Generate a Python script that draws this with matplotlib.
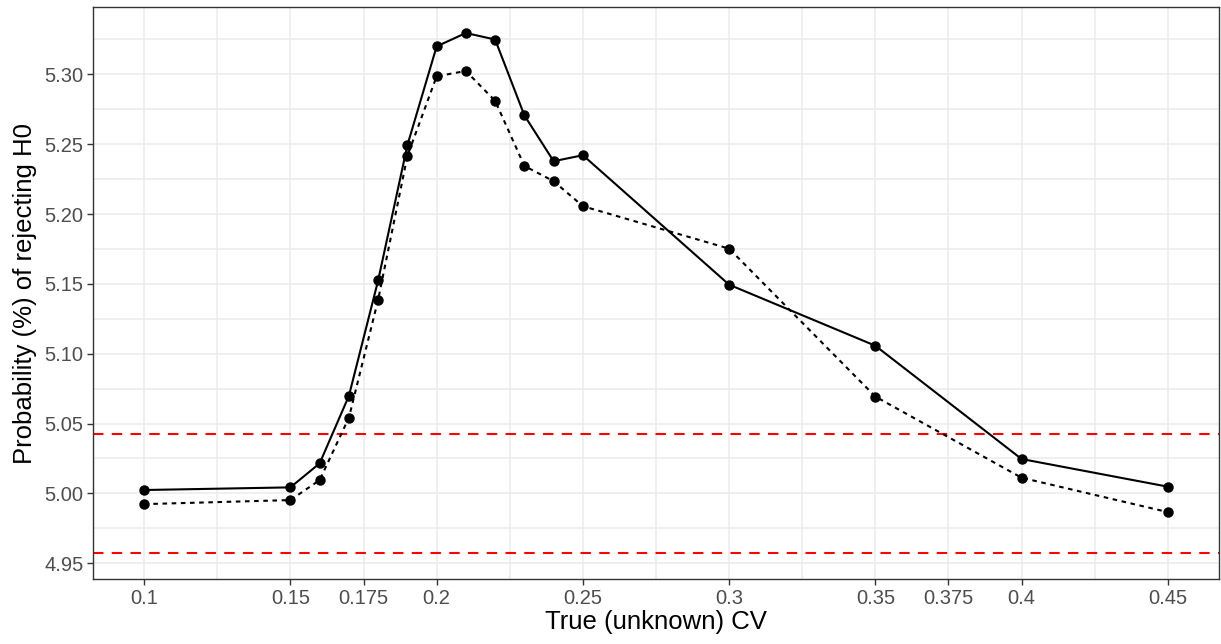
import numpy as np
import matplotlib
matplotlib.use("Agg")
import matplotlib.pyplot as plt
from matplotlib.ticker import FixedLocator

plt.rcParams['font.family'] = ['Liberation Sans', 'DejaVu Sans']

cv = [0.1, 0.15, 0.16, 0.17, 0.18, 0.19, 0.2, 0.21, 0.22, 0.23, 0.24, 0.25, 0.3, 0.35, 0.4, 0.45]
solid_vals = [5.0024, 5.0043, 5.0215, 5.0698, 5.1525, 5.2493, 5.3200, 5.3296, 5.3249, 5.2706,
              5.2378, 5.2421, 5.1494, 5.1057, 5.0246, 5.0048]
dashed_vals = [4.9923, 4.9952, 5.0095, 5.0542, 5.1387, 5.2416, 5.2986, 5.3024, 5.2810, 5.2344,
               5.2235, 5.2056, 5.1752, 5.0693, 5.0112, 4.9866]
ref_lines = [5.04272, 4.95728]

x_ticks = [0.1, 0.15, 0.175, 0.2, 0.25, 0.3, 0.35, 0.375, 0.4, 0.45]
x_tick_labels = ['0.1', '0.15', '0.175', '0.2', '0.25', '0.3', '0.35', '0.375', '0.4', '0.45']
y_ticks = [4.95, 5.00, 5.05, 5.10, 5.15, 5.20, 5.25, 5.30]
y_tick_labels = ['4.95', '5.00', '5.05', '5.10', '5.15', '5.20', '5.25', '5.30']
x_label = 'True (unknown) CV'
y_label = 'Probability (%) of rejecting H0'

fig = plt.figure(figsize=(12.21, 6.44), dpi=100)
ax = fig.add_axes([93/1221, 65/644, 1126/1221, 572/644])

ax.xaxis.set_major_locator(FixedLocator(x_ticks))
ax.set_xticklabels(x_tick_labels)
ax.yaxis.set_major_locator(FixedLocator(y_ticks))
ax.set_yticklabels(y_tick_labels)

# grid lines every 0.025 on both axes
for gx in np.arange(0.075, 0.476, 0.025):
    ax.axvline(gx, color='#EBEBEB', lw=1.1, zorder=0)
for gy in np.arange(4.925, 5.36, 0.025):
    ax.axhline(gy, color='#EBEBEB', lw=1.1, zorder=0)

for r in ref_lines:
    ax.axhline(r, color='#FF0000', lw=1.5, ls=(0, (5, 4)), zorder=1)

ax.plot(cv, solid_vals, color='black', lw=1.5, ls='-', marker='o', ms=6.5, zorder=3)
ax.plot(cv, dashed_vals, color='black', lw=1.5, ls=(0, (2.2, 2.2)), marker='o', ms=6.5, zorder=3)

ax.set_xlim(0.0825, 0.4675)
ax.set_ylim(4.9387, 5.3482)

for s in ax.spines.values():
    s.set_color('#333333')
    s.set_linewidth(1.0)

ax.tick_params(axis='both', colors='#333333', length=4, width=1.0, labelsize=14.5,
               labelcolor='#4D4D4D', pad=3)
ax.set_xlabel(x_label, fontsize=18.5, color='black', labelpad=2)
ax.set_ylabel(y_label, fontsize=18.5, color='black', labelpad=5)

fig.savefig('out.png', dpi=100)
